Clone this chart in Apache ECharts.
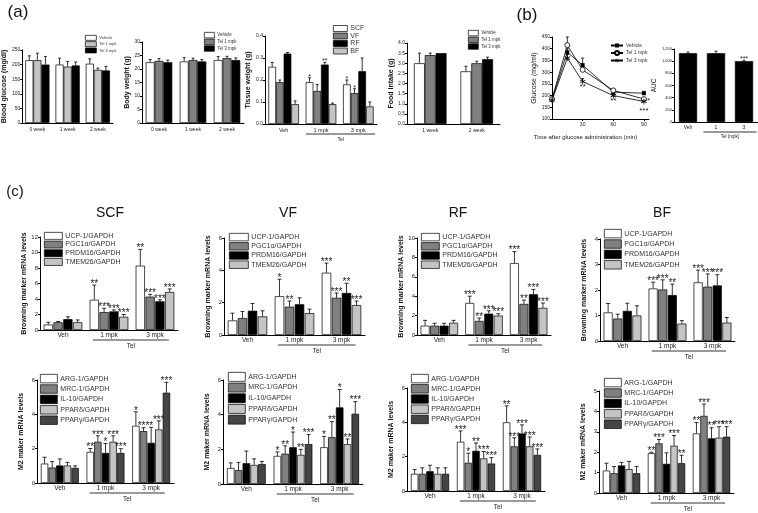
<!DOCTYPE html>
<html><head><meta charset="utf-8">
<script src="https://cdn.jsdelivr.net/npm/echarts@6/dist/echarts.min.js"></script>
<style>html,body{margin:0;padding:0;background:#fff}#c{width:758px;height:513px}</style>
</head><body><div id="c"></div>
<script>
const FONT = 'Liberation Sans, Arial, sans-serif';

// ---------------- (a) data ----------------
const weekCats3 = ['0 week', '1 week', '2 week'];
const weekCats2 = ['1 week', '2 week'];
const doseCats = ['Veh', '1 mpk', '3 mpk'];
const treatNames = ['Vehicle', 'Tel 1 mpk', 'Tel 3 mpk'];

const glucoseVeh = [215, 200, 203], glucoseVehErr = [15, 22, 17];
const glucoseTel1 = [215, 193, 182], glucoseTel1Err = [24, 18, 6];
const glucoseTel3 = [200, 197, 180], glucoseTel3Err = [28, 12, 14];

const bwVeh = [22.5, 22.8, 23.3], bwVehErr = [1.0, 1.4, 1.3];
const bwTel1 = [23.0, 23.3, 24.0], bwTel1Err = [0.9, 0.7, 0.7];
const bwTel3 = [22.5, 22.8, 23.3], bwTel3Err = [0.8, 0.7, 0.8];

const tissueNames = ['SCF', 'VF', 'RF', 'BF'];
const twSCF = [0.26, 0.19, 0.18], twSCFErr = [0.02, 0.02, 0.02], twSCFStars = ['', '*', '*'];
const twVF = [0.19, 0.15, 0.14], twVFErr = [0.01, 0.03, 0.02], twVFStars = ['', '', '*'];
const twRF = [0.32, 0.27, 0.24], twRFErr = [0.005, 0.01, 0.06], twRFStars = ['', '**', ''];
const twBF = [0.09, 0.09, 0.08], twBFErr = [0.015, 0.005, 0.02], twBFStars = ['', '', ''];

const fiVeh = [3.0, 2.6], fiVehErr = [0.5, 0.25];
const fiTel1 = [3.4, 3.0], fiTel1Err = [0.1, 0.1];
const fiTel3 = [3.5, 3.2], fiTel3Err = [0.0, 0.1];

// ---------------- (b) data ----------------
const ogttTimes = [0, 15, 30, 60, 90];
const ogttVeh = [185, 385, 330, 215, 210], ogttVehErr = [0, 15, 30, 8, 8];
const ogttTel1 = [185, 415, 310, 222, 185], ogttTel1Err = [0, 35, 15, 5, 5], ogttTel1Stars = ['', '', '', '', '*'];
const ogttTel3 = [180, 360, 260, 200, 175], ogttTel3Err = [0, 15, 12, 5, 5], ogttTel3Stars = ['', '', '**', '**', '***'];
const xTicks = [30, 60, 90];

const aucCats = ['Veh', '1', '3'];
const aucVals = [1130, 1130, 1000], aucErr = [20, 35, 15], aucStars = ['', '', '***'];

// ---------------- (c) data ----------------
const browNames = ['UCP-1/GAPDH', 'PGC1\u03b1/GAPDH', 'PRDM16/GAPDH', 'TMEM26/GAPDH'];
const m2Names = ['ARG-1/GAPDH', 'MRC-1/GAPDH', 'IL-10/GAPDH', 'PPAR\u03b4/GAPDH', 'PPAR\u03b3/GAPDH'];

// SCF browning
const scfUCP = [0.7, 3.9, 8.3], scfUCPErr = [0.3, 1.9, 2.1], scfUCPStars = ['', '**', '**'];
const scfPGC = [1.0, 2.3, 4.3], scfPGCErr = [0.1, 0.5, 0.3], scfPGCStars = ['', '***', '***'];
const scfPRD = [1.4, 2.4, 3.7], scfPRDErr = [0.3, 0.2, 0.2], scfPRDStars = ['', '***', '***'];
const scfTME = [1.0, 1.7, 4.9], scfTMEErr = [0.3, 0.3, 0.4], scfTMEStars = ['', '***', '***'];
// VF browning
const vfUCP = [0.9, 2.4, 3.85], vfUCPErr = [0.45, 1.05, 0.6], vfUCPStars = ['', '*', '***'];
const vfPGC = [1.05, 1.75, 2.3], vfPGCErr = [0.4, 0.35, 0.3], vfPGCStars = ['', '**', '***'];
const vfPRD = [1.5, 1.9, 2.6], vfPRDErr = [0.45, 0.4, 0.6], vfPRDStars = ['', '', '**'];
const vfTME = [1.15, 1.35, 1.85], vfTMEErr = [0.35, 0.25, 0.25], vfTMEStars = ['', '', '***'];
// RF browning
const rfUCP = [0.96, 3.3, 7.4], rfUCPErr = [0.55, 0.7, 1.2], rfUCPStars = ['', '***', '***'];
const rfPGC = [0.96, 1.45, 3.2], rfPGCErr = [0.25, 0.3, 0.4], rfPGCStars = ['', '**', '**'];
const rfPRD = [0.96, 2.2, 4.2], rfPRDErr = [0.25, 0.3, 0.5], rfPRDStars = ['', '***', '***'];
const rfTME = [1.26, 2.0, 2.8], rfTMEErr = [0.25, 0.2, 0.5], rfTMEStars = ['', '***', '***'];
// BF browning
const bfUCP = [1.12, 2.06, 2.3], bfUCPErr = [0.35, 0.25, 0.48], bfUCPStars = ['', '***', '***'];
const bfPGC = [0.88, 2.02, 2.13], bfPGCErr = [0.17, 0.38, 0.5], bfPGCStars = ['', '***', '***'];
const bfPRD = [1.18, 1.8, 2.18], bfPRDErr = [0.3, 0.43, 0.42], bfPRDStars = ['', '**', '***'];
const bfTME = [1.0, 0.68, 0.72], bfTMEErr = [0.38, 0.12, 0.2], bfTMEStars = ['', '', ''];

// SCF M2
const scfARG = [1.13, 1.81, 3.33], scfARGErr = [0.37, 0.2, 0.82], scfARGStars = ['', '**', '*'];
const scfMRC = [0.9, 2.4, 3.02], scfMRCErr = [0.35, 0.35, 0.2], scfMRCStars = ['', '***', '***'];
const scfIL = [1.02, 1.75, 2.34], scfILErr = [0.38, 0.55, 0.9], scfILStars = ['', '*', '*'];
const scfPD = [1.02, 2.4, 3.12], scfPDErr = [0.18, 0.35, 0.5], scfPDStars = ['', '***', '***'];
const scfPG = [0.88, 1.75, 5.26], scfPGErr = [0.12, 0.25, 0.6], scfPGStars = ['', '***', '***'];
// VF M2
const vfARG = [0.92, 1.62, 2.12], vfARGErr = [0.3, 0.23, 0.63], vfARGStars = ['', '*', '*'];
const vfMRC = [0.8, 1.75, 2.7], vfMRCErr = [0.45, 0.45, 0.9], vfMRCStars = ['', '**', '**'];
const vfIL = [1.2, 2.12, 4.42], vfILErr = [0.7, 0.88, 1.03], vfILStars = ['', '*', '*'];
const vfPD = [1.1, 1.68, 2.3], vfPDErr = [0.35, 0.32, 0.3], vfPDStars = ['', '**', '**'];
const vfPG = [1.15, 2.3, 4.05], vfPGErr = [0.15, 0.55, 0.7], vfPGStars = ['', '***', '***'];
// RF M2
const rfARG = [1.0, 2.87, 4.0], rfARGErr = [0.25, 0.63, 0.96], rfARGStars = ['', '***', '**'];
const rfMRC = [1.0, 1.64, 2.6], rfMRCErr = [0.35, 0.56, 0.5], rfMRCStars = ['', '*', '***'];
const rfIL = [1.15, 2.34, 3.35], rfILErr = [0.35, 0.46, 0.5], rfILStars = ['', '**', '***'];
const rfPD = [1.0, 1.9, 2.6], rfPDErr = [0.35, 0.4, 0.55], rfPDStars = ['', '***', '***'];
const rfPG = [1.0, 1.6, 2.1], rfPGErr = [0.35, 0.35, 0.35], rfPGStars = ['', '***', '***'];
// BF M2
const bfARG = [1.1, 1.95, 2.92], bfARGErr = [0.36, 0.05, 0.53], bfARGStars = ['', '**', '**'];
const bfMRC = [0.97, 2.43, 3.78], bfMRCErr = [0.33, 0.19, 0.58], bfMRCStars = ['', '***', '***'];
const bfIL = [1.35, 1.43, 2.68], bfILErr = [0.15, 0.54, 0.52], bfILStars = ['', '', '**'];
const bfPD = [1.17, 2.32, 2.71], bfPDErr = [0.38, 0.5, 0.54], bfPDStars = ['', '***', '***'];
const bfPG = [0.97, 1.46, 2.76], bfPGErr = [0.33, 0.39, 0.49], bfPGStars = ['', '**', '***'];

// ---------------- colours ----------------
const WHITE = '#ffffff', GRAY = '#808080', BLACK = '#000000', LIGHT = '#c4c4c4', DARK = '#454545';
const browColors = [WHITE, GRAY, BLACK, LIGHT];
const m2Colors = [WHITE, GRAY, BLACK, LIGHT, DARK];

// ---------------- builder ----------------
const option = {
  animation: false, backgroundColor: '#ffffff', textStyle: {fontFamily: FONT},
  grid: [], xAxis: [], yAxis: [], series: [], legend: [], graphic: []
};

function addBarPanel(p) {
  const gi = option.grid.length;
  option.grid.push({left: p.left, top: p.top, width: p.width, height: p.height});
  option.xAxis.push({
    type: 'category', gridIndex: gi, data: p.cats,
    axisLine: {lineStyle: {color: '#000', width: 1}}, axisTick: {show: false},
    axisLabel: {fontSize: p.xfs, color: '#222', margin: p.xmargin, fontFamily: FONT, interval: 0}
  });
  option.yAxis.push({
    type: 'value', gridIndex: gi, min: 0, max: p.max, interval: p.interval,
    name: p.yname, nameLocation: 'middle', nameGap: p.nameGap, nameRotate: 90,
    nameTextStyle: {fontSize: p.nfs, fontWeight: p.nfw || 'normal', color: '#111', fontFamily: FONT},
    axisLine: {show: true, lineStyle: {color: '#000', width: 1}},
    axisTick: {show: true, length: 2, lineStyle: {color: '#000'}},
    splitLine: {show: false},
    axisLabel: {fontSize: p.yfs, color: '#222', margin: 2, formatter: p.yfmt, fontFamily: FONT}
  });
  const n = p.names.length;
  const recs = [];
  p.names.forEach((nm, i) => {
    option.series.push({
      type: 'bar', name: nm, xAxisIndex: gi, yAxisIndex: gi, data: p.vals[i], silent: true,
      barGap: (p.barGap * 100) + '%', barCategoryGap: (p.catGap * 100) + '%',
      itemStyle: {color: p.colors[i], borderColor: '#000', borderWidth: 0.7}
    });
    p.vals[i].forEach((v, c) => recs.push({c: c, v: v, e: p.errs[i][c], i: i, s: (p.stars && p.stars[i]) ? p.stars[i][c] : ''}));
  });
  const sfs = p.sfs || 9;
  option.series.push({
    type: 'custom', xAxisIndex: gi, yAxisIndex: gi, silent: true, z: 10,
    data: recs.map(r => [r.c, r.v + r.e]),
    renderItem: function (params, api) {
      const r = recs[params.dataIndex];
      const bw = api.size([1, 0])[0];
      const usable = bw * (1 - p.catGap);
      const bar = usable / (n + (n - 1) * p.barGap);
      const total = n * bar + (n - 1) * bar * p.barGap;
      const c0 = api.coord([r.c, r.v]);
      const cx = c0[0] - total / 2 + r.i * bar * (1 + p.barGap) + bar / 2;
      const ty = api.coord([r.c, r.v + r.e])[1];
      const cap = p.cap || 2;
      const ch = [];
      if (r.e > 0) {
        ch.push({type: 'line', shape: {x1: cx, y1: c0[1], x2: cx, y2: ty}, style: {stroke: '#000', lineWidth: 0.8}});
        ch.push({type: 'line', shape: {x1: cx - cap, y1: ty, x2: cx + cap, y2: ty}, style: {stroke: '#000', lineWidth: 0.8}});
      }
      if (r.s) {
        ch.push({type: 'text', x: cx, y: ty - 1.5 - 0.45 * sfs,
          style: {text: r.s, fontSize: sfs, fontFamily: FONT, fill: '#222', align: 'center', verticalAlign: 'top'}});
      }
      return {type: 'group', children: ch};
    }
  });
  if (p.tel) {
    const t = p.tel;
    option.series.push({
      type: 'custom', xAxisIndex: gi, yAxisIndex: gi, silent: true, z: 10,
      data: [[1, 0]],
      renderItem: function (params, api) {
        const bw = api.size([1, 0])[0];
        const a = api.coord([1, 0]);
        const b = api.coord([p.cats.length - 1, 0]);
        const y = a[1] + t.dy;
        return {type: 'group', children: [
          {type: 'line', shape: {x1: a[0] - bw * t.l, y1: y, x2: b[0] + bw * t.r, y2: y}, style: {stroke: '#000', lineWidth: 0.8}},
          {type: 'text', x: (a[0] - bw * t.l + b[0] + bw * t.r) / 2, y: y + t.ty,
            style: {text: t.text, fontSize: t.fs, fontFamily: FONT, fill: '#222', align: 'center', verticalAlign: 'middle'}}
        ]};
      }
    });
  }
  if (p.legend) {
    const L = p.legend;
    option.legend.push({
      left: L.left, top: L.top, orient: 'vertical', padding: 0, selectedMode: false,
      itemWidth: L.w, itemHeight: L.h, itemGap: L.gap, icon: 'rect',
      itemStyle: {borderColor: '#000', borderWidth: 0.7},
      textStyle: {fontSize: L.fs, color: '#333', fontFamily: FONT, lineHeight: L.h, padding: [0, 0, 0, -2]},
      data: p.names.map((nm, i) => ({name: nm, itemStyle: {color: p.colors[i], borderColor: '#000', borderWidth: 0.7}}))
    });
  }
  return gi;
}

function fixed1(v) { return v.toFixed(1); }

// ---- (a) blood glucose
addBarPanel({left: 22, top: 50, width: 91, height: 73, cats: weekCats3, max: 250, interval: 50,
  yname: 'Blood glucose (mg/dl)', nameGap: 12, nfs: 7, nfw: 'bold', yfs: 5, xfs: 5, xmargin: 4,
  names: treatNames, colors: [WHITE, LIGHT, BLACK],
  vals: [glucoseVeh, glucoseTel1, glucoseTel3], errs: [glucoseVehErr, glucoseTel1Err, glucoseTel3Err],
  catGap: 0.2, barGap: 0, cap: 1.5,
  legend: {left: 85, top: 35, w: 11, h: 5, gap: 0.6, fs: 4}});
// ---- (a) body weight
addBarPanel({left: 142, top: 42, width: 102, height: 81, cats: weekCats3, max: 30, interval: 5,
  yname: 'Body weight (g)', nameGap: 10, nfs: 7, nfw: 'bold', yfs: 5, xfs: 5, xmargin: 4,
  names: treatNames, colors: [WHITE, GRAY, BLACK],
  vals: [bwVeh, bwTel1, bwTel3], errs: [bwVehErr, bwTel1Err, bwTel3Err],
  catGap: 0.22, barGap: 0, cap: 1.5,
  legend: {left: 204, top: 32, w: 10, h: 5.5, gap: 0.5, fs: 4.5}});
// ---- (a) tissue weight
addBarPanel({left: 265, top: 36, width: 112, height: 88, cats: doseCats, max: 0.4, interval: 0.1,
  yname: 'Tissue weight (g)', nameGap: 13, nfs: 7, nfw: 'bold', yfs: 5, xfs: 5.5, xmargin: 3, yfmt: fixed1,
  names: tissueNames, colors: [WHITE, GRAY, BLACK, LIGHT],
  vals: [twSCF, twVF, twRF, twBF], errs: [twSCFErr, twVFErr, twRFErr, twBFErr],
  stars: [twSCFStars, twVFStars, twRFStars, twBFStars], sfs: 7,
  catGap: 0.18, barGap: 0, cap: 1.5,
  tel: {dy: 10, ty: 6, l: 0.4, r: 0.45, text: 'Tel', fs: 5},
  legend: {left: 333, top: 25, w: 14, h: 6, gap: 0.5, fs: 7}});
// ---- (a) food intake
addBarPanel({left: 407, top: 43, width: 93, height: 81, cats: weekCats2, max: 4, interval: 0.5,
  yname: 'Food intake (g)', nameGap: 10, nfs: 7, nfw: 'bold', yfs: 5, xfs: 5, xmargin: 4, yfmt: fixed1,
  names: treatNames, colors: [WHITE, GRAY, BLACK],
  vals: [fiVeh, fiTel1, fiTel3], errs: [fiVehErr, fiTel1Err, fiTel3Err],
  catGap: 0.3, barGap: 0, cap: 1.5,
  legend: {left: 468, top: 30, w: 10, h: 5.5, gap: 0.5, fs: 4.5}});

// ---- (b) OGTT line chart
(function () {
  const gi = option.grid.length;
  option.grid.push({left: 552, top: 37, width: 97, height: 82});
  option.xAxis.push({type: 'value', gridIndex: gi, min: 0, max: 95, interval: 30,
    name: 'Time after glucose administration (min)', nameLocation: 'middle', nameGap: 15,
    nameTextStyle: {fontSize: 6, color: '#111', fontFamily: FONT, padding: [0, 30, 0, 0]},
    axisLine: {lineStyle: {color: '#000', width: 1}},
    axisTick: {show: true, length: 2, customValues: xTicks, lineStyle: {color: '#000'}},
    splitLine: {show: false},
    axisLabel: {fontSize: 5, color: '#222', margin: 3, customValues: xTicks, fontFamily: FONT}});
  option.yAxis.push({type: 'value', gridIndex: gi, min: 100, max: 450, interval: 50,
    name: 'Glucose (mg/ml)', nameLocation: 'middle', nameGap: 13, nameRotate: 90,
    nameTextStyle: {fontSize: 7, color: '#111', fontFamily: FONT},
    axisLine: {show: true, lineStyle: {color: '#000', width: 1}},
    axisTick: {show: true, length: 2, lineStyle: {color: '#000'}},
    splitLine: {show: false},
    axisLabel: {fontSize: 5, color: '#222', margin: 2, fontFamily: FONT}});
  const ASTER = 'path://M4.4 0L5.6 0L5.6 10L4.4 10ZM0.97 1.98L9.63 6.98L9.03 8.02L0.37 3.02ZM9.03 1.98L9.63 3.02L0.97 8.02L0.37 6.98Z';
  const lines = [
    {name: 'Vehicle ', vals: ogttVeh, errs: ogttVehErr, stars: null, symbol: 'rect', size: 4, fill: '#000'},
    {name: 'Tel 1 mpk ', vals: ogttTel1, errs: ogttTel1Err, stars: ogttTel1Stars, symbol: 'circle', size: 5, fill: '#fff'},
    {name: 'Tel 3 mpk ', vals: ogttTel3, errs: ogttTel3Err, stars: ogttTel3Stars, symbol: ASTER, size: 6, fill: '#000'}
  ];
  const recs = [];
  lines.forEach((L, li) => {
    option.series.push({type: 'line', name: L.name, xAxisIndex: gi, yAxisIndex: gi, silent: true,
      data: ogttTimes.map((t, k) => [t, L.vals[k]]),
      symbol: L.symbol, symbolSize: L.size, showAllSymbol: true,
      lineStyle: {color: '#000', width: 0.8},
      itemStyle: {color: L.fill, borderColor: '#000', borderWidth: L.fill === '#fff' ? 0.8 : 0}, z: 3 + li});
    ogttTimes.forEach((t, k) => recs.push({t: t, v: L.vals[k], e: L.errs[k], s: L.stars ? L.stars[k] : '', li: li}));
  });
  option.series.push({type: 'custom', xAxisIndex: gi, yAxisIndex: gi, silent: true, z: 2,
    data: recs.map(r => [r.t, r.v + r.e]),
    renderItem: function (params, api) {
      const r = recs[params.dataIndex];
      const p0 = api.coord([r.t, r.v]);
      const p1 = api.coord([r.t, r.v + r.e]);
      const ch = [];
      if (r.e > 0) {
        ch.push({type: 'line', shape: {x1: p0[0], y1: p0[1], x2: p1[0], y2: p1[1]}, style: {stroke: '#000', lineWidth: 0.8}});
        ch.push({type: 'line', shape: {x1: p1[0] - 1.5, y1: p1[1], x2: p1[0] + 1.5, y2: p1[1]}, style: {stroke: '#000', lineWidth: 0.8}});
      }
      if (r.s) {
        if (r.li === 1) {
          ch.push({type: 'text', x: p0[0] + 3, y: p0[1] - 2, style: {text: r.s, fontSize: 8, fill: '#222', fontFamily: FONT, align: 'left', verticalAlign: 'top'}});
        } else {
          const dy = r.s.length === 3 ? 5 : 1;
          ch.push({type: 'text', x: p0[0], y: p0[1] + dy, style: {text: r.s, fontSize: 8, fill: '#222', fontFamily: FONT, align: 'center', verticalAlign: 'top'}});
        }
      }
      return {type: 'group', children: ch};
    }});
  option.legend.push({left: 610, top: 43, orient: 'vertical', padding: 0, selectedMode: false,
    itemWidth: 12, itemHeight: 5, itemGap: 2,
    textStyle: {fontSize: 5, color: '#333', fontFamily: FONT, padding: [0, 0, 0, -2]},
    data: lines.map(L => L.name)});
})();

// ---- (b) AUC
addBarPanel({left: 674, top: 49, width: 84, height: 73, cats: aucCats, max: 1200, interval: 200,
  yname: 'AUC', nameGap: 11, nfs: 6.5, yfs: 4, xfs: 5, xmargin: 3,
  names: ['AUC'], colors: [BLACK],
  vals: [aucVals], errs: [aucErr], stars: [aucStars], sfs: 7,
  catGap: 0.35, barGap: 0, cap: 1.5,
  tel: {dy: 10, ty: 5, l: 0.45, r: 0.45, text: 'Tel (mpk)', fs: 4.5}});

// ---- (c) panels
const cBrow = {names: browNames, colors: browColors, catGap: 0.16, barGap: 0.06, cap: 2, sfs: 10,
  nfs: 7, nfw: 'bold', yfs: 6, xfs: 6.5, xmargin: 2, yname: 'Browning marker mRNA levels'};
const cM2 = {names: m2Names, colors: m2Colors, catGap: 0.17, barGap: 0.04, cap: 2, sfs: 10,
  nfs: 7, nfw: 'bold', yfs: 6, xfs: 6.5, xmargin: 2, yname: 'M2 maker mRNA levels'};
const telC = {dy: 10, ty: 6, l: 0.35, r: 0.3, text: 'Tel', fs: 6.5};

addBarPanel(Object.assign({}, cBrow, {left: 40, top: 237, width: 138, height: 93, cats: doseCats, max: 12, interval: 2, nameGap: 12,
  vals: [scfUCP, scfPGC, scfPRD, scfTME], errs: [scfUCPErr, scfPGCErr, scfPRDErr, scfTMEErr],
  stars: [scfUCPStars, scfPGCStars, scfPRDStars, scfTMEStars], tel: telC,
  legend: {left: 44, top: 232, w: 18, h: 7, gap: 1, fs: 7}}));
addBarPanel(Object.assign({}, cM2, {left: 37, top: 380, width: 137, height: 103, cats: doseCats, max: 6, interval: 2, nameGap: 12,
  vals: [scfARG, scfMRC, scfIL, scfPD, scfPG], errs: [scfARGErr, scfMRCErr, scfILErr, scfPDErr, scfPGErr],
  stars: [scfARGStars, scfMRCStars, scfILStars, scfPDStars, scfPGStars], tel: telC,
  legend: {left: 40, top: 374, w: 17, h: 8.5, gap: 1.2, fs: 7}}));
addBarPanel(Object.assign({}, cBrow, {left: 224, top: 238, width: 141, height: 97, cats: doseCats, max: 6, interval: 2, nameGap: 12,
  vals: [vfUCP, vfPGC, vfPRD, vfTME], errs: [vfUCPErr, vfPGCErr, vfPRDErr, vfTMEErr],
  stars: [vfUCPStars, vfPGCStars, vfPRDStars, vfTMEStars], tel: telC,
  legend: {left: 229, top: 233, w: 19, h: 7.5, gap: 1, fs: 7}}));
addBarPanel(Object.assign({}, cM2, {left: 223, top: 380, width: 140, height: 104, cats: doseCats, max: 6, interval: 2, nameGap: 12,
  vals: [vfARG, vfMRC, vfIL, vfPD, vfPG], errs: [vfARGErr, vfMRCErr, vfILErr, vfPDErr, vfPGErr],
  stars: [vfARGStars, vfMRCStars, vfILStars, vfPDStars, vfPGStars], tel: telC,
  legend: {left: 228, top: 372, w: 17, h: 9, gap: 1, fs: 7}}));
addBarPanel(Object.assign({}, cBrow, {left: 417, top: 238, width: 134, height: 97, cats: doseCats, max: 10, interval: 2, nameGap: 12,
  vals: [rfUCP, rfPGC, rfPRD, rfTME], errs: [rfUCPErr, rfPGCErr, rfPRDErr, rfTMEErr],
  stars: [rfUCPStars, rfPGCStars, rfPRDStars, rfTMEStars], tel: telC,
  legend: {left: 421, top: 233, w: 18, h: 7.5, gap: 1, fs: 7}}));
addBarPanel(Object.assign({}, cM2, {left: 407, top: 388, width: 138, height: 103, cats: doseCats, max: 6, interval: 2, nameGap: 12,
  vals: [rfARG, rfMRC, rfIL, rfPD, rfPG], errs: [rfARGErr, rfMRCErr, rfILErr, rfPDErr, rfPGErr],
  stars: [rfARGStars, rfMRCStars, rfILStars, rfPDStars, rfPGStars], tel: telC,
  legend: {left: 411, top: 374, w: 17, h: 8.5, gap: 1, fs: 7}}));
addBarPanel(Object.assign({}, cBrow, {left: 600, top: 239, width: 135, height: 102, cats: doseCats, max: 4, interval: 1, nameGap: 12,
  vals: [bfUCP, bfPGC, bfPRD, bfTME], errs: [bfUCPErr, bfPGCErr, bfPRDErr, bfTMEErr],
  stars: [bfUCPStars, bfPGCStars, bfPRDStars, bfTMEStars], tel: telC,
  legend: {left: 604, top: 229, w: 17, h: 8.5, gap: 1.2, fs: 7}}));
addBarPanel(Object.assign({}, cM2, {left: 599, top: 391, width: 135, height: 102, cats: doseCats, max: 5, interval: 1, nameGap: 12,
  vals: [bfARG, bfMRC, bfIL, bfPD, bfPG], errs: [bfARGErr, bfMRCErr, bfILErr, bfPDErr, bfPGErr],
  stars: [bfARGStars, bfMRCStars, bfILStars, bfPDStars, bfPGStars], tel: telC,
  legend: {left: 604, top: 378, w: 17, h: 8.5, gap: 1.2, fs: 7}}));

// ---- panel letters and titles
function label(text, x, y, fs) {
  option.graphic.push({type: 'text', x: x, y: y, silent: true,
    style: {text: text, fontSize: fs, fontFamily: FONT, fill: '#111', align: 'center', verticalAlign: 'middle'}});
}
label('(a)', 18, 12, 17);
label('(b)', 527, 15, 17);
label('(c)', 15, 192, 15);
label('SCF', 110, 213, 14);
label('VF', 288, 213, 14);
label('RF', 458, 213, 14);
label('BF', 662, 213, 14);

const chart = echarts.init(document.getElementById('c'));
chart.setOption(option);
</script></body></html>
